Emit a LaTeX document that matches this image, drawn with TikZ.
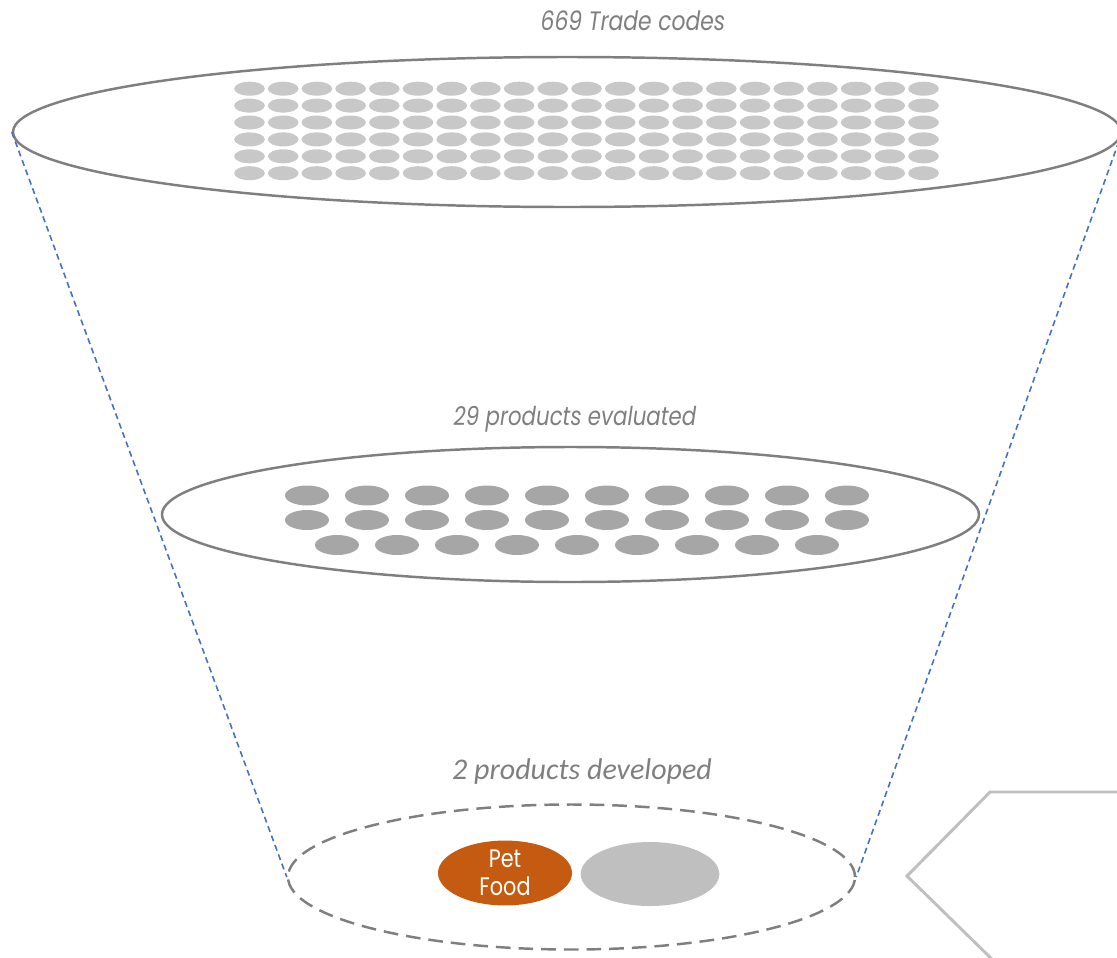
\documentclass[tikz,border=0pt]{standalone}
\usepackage{fontspec}
\usetikzlibrary{shapes.geometric}
\newfontfamily\geo{Poppins}[FakeStretch=0.82]
\newfontfamily\gill{Carlito}
\definecolor{txtgray}{HTML}{7F7F7F}
\definecolor{rimgray}{HTML}{7F7F7F}
\definecolor{dotlight}{HTML}{C8C8C8}
\definecolor{dotmid}{HTML}{A6A6A6}
\definecolor{dotpale}{HTML}{BFBFBF}
\definecolor{petorange}{HTML}{C55A11}
\definecolor{funnelblue}{HTML}{4472C4}
\tikzset{
  rim/.style={ellipse, draw=rimgray, line width=1.85pt, inner sep=0pt},
  rimdashed/.style={rim, dash pattern=on 11pt off 6pt},
  topdot/.style={ellipse, fill=dotlight, inner sep=0pt, minimum width=23pt, minimum height=10.5pt},
  middot/.style={ellipse, fill=dotmid, inner sep=0pt, minimum width=33pt, minimum height=15pt},
  label/.style={text=txtgray, inner sep=0pt},
  funnel/.style={draw=funnelblue, line width=1.2pt, dash pattern=on 4.5pt off 3pt},
}
\begin{document}
\begin{tikzpicture}[x=0.75pt, y=-0.75pt]
\useasboundingbox (0,0) rectangle (1117,957);
% rims
\node[rim, minimum width=831pt, minimum height=112.5pt] (top) at (567,132) {};
\node[rim, minimum width=612.75pt, minimum height=101.25pt] (mid) at (570.5,514.5) {};
\node[rimdashed, minimum width=425.25pt, minimum height=108.75pt] (bot) at (571.5,877) {};
% funnel sides
\draw[funnel] (top.west) -- (bot.west);
\draw[funnel] (top.east) -- (bot.east);
% top dots
\foreach \j in {0,...,5}{
  \foreach \i in {0,...,20}{
    \node[topdot] (t-\i-\j) at ({249.5+33.7*\i},{88.7+16.9*\j}) {};
  }
}
% middle dots
\foreach \j/\yy in {0/495.5,1/520}{
  \foreach \i in {0,...,9}{
    \node[middot] (m-\i-\j) at ({307+60*\i},\yy) {};
  }
}
\foreach \i in {0,...,8}{
  \node[middot] (m-\i-2) at ({337+60*\i},545) {};
}
% bottom products
\node[ellipse, fill=petorange, inner sep=0pt, minimum width=100.5pt, minimum height=48pt,
      text=white, align=center, font=\geo\fontsize{19}{21}\selectfont] (pet) at (505,873) {Pet\\Food};
\node[ellipse, fill=dotpale, inner sep=0pt, minimum width=104pt, minimum height=48pt] (other) at (650,874) {};
% labels
\node[label, font=\geo\itshape\fontsize{20}{22}\selectfont] (l1) at (633,21) {669 Trade codes};
\node[label, font=\geo\itshape\fontsize{19.5}{22}\selectfont] (l2) at (575,419) {29 products evaluated};
\node[label, font=\gill\itshape\fontsize{22.5}{25}\selectfont] (l3) at (582,771) {2 products developed};
% chevron
\draw[draw=dotpale, line width=2.2pt] (1130,792) -- (990,792) -- (907,876) -- (1000,967);
\end{tikzpicture}
\end{document}
